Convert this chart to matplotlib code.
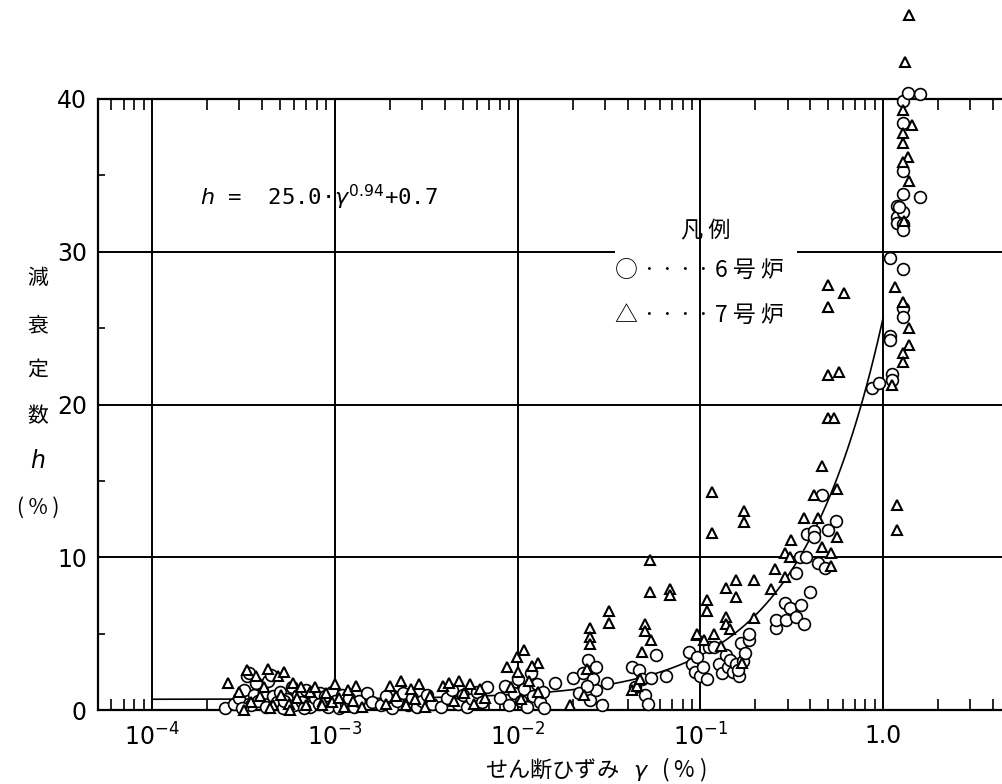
import numpy as np
import matplotlib
matplotlib.use("Agg")
import matplotlib.pyplot as plt
from matplotlib.ticker import FixedLocator, LogLocator, NullFormatter

plt.rcParams['font.family'] = ['DejaVu Sans', 'Noto Sans CJK JP']

# 6号炉 (circles): shear strain gamma (%) and damping h (%)
gamma6 = [2.5e-4, 2.8e-4, 3.0e-4, 3.2e-4, 3.3e-4, 3.4e-4, 3.5e-4, 3.6e-4, 3.8e-4, 4.0e-4,
          4.2e-4, 4.3e-4, 4.5e-4, 4.6e-4, 4.8e-4, 5.0e-4, 5.2e-4, 5.5e-4, 5.8e-4, 6.0e-4,
          6.3e-4, 6.6e-4, 7.0e-4, 7.3e-4, 7.8e-4, 8.3e-4, 3.1e-4, 3.7e-4, 5.3e-4, 6.8e-4,
          8.2e-4, 8.8e-4, 9.2e-4, 9.6e-4, 1.0e-3, 1.05e-3, 1.1e-3, 1.15e-3, 1.2e-3, 1.28e-3,
          1.35e-3, 1.5e-3, 1.6e-3,
          1.8e-3, 1.9e-3, 2.05e-3, 2.2e-3, 2.35e-3, 2.5e-3, 2.65e-3, 2.8e-3, 3.0e-3, 3.2e-3, 3.4e-3,
          3.8e-3, 4.1e-3, 4.4e-3, 4.7e-3, 5.0e-3, 5.3e-3, 5.6e-3, 6.0e-3, 6.4e-3, 6.8e-3,
          8.0e-3, 8.5e-3, 9.0e-3, 9.5e-3, 1.0e-2, 1.04e-2, 1.08e-2, 1.13e-2, 1.18e-2, 1.22e-2,
          1.27e-2, 1.32e-2, 1.38e-2, 1.4e-2, 1.6e-2,
          2.0e-2, 2.27e-2, 2.42e-2, 2.7e-2, 2.18e-2, 2.48e-2, 2.7e-2, 3.1e-2, 2.6e-2, 2.4e-2, 2.9e-2,
          4.2e-2, 4.6e-2, 4.8e-2, 5.0e-2, 5.4e-2, 5.7e-2, 6.5e-2, 4.4e-2, 5.2e-2,
          8.7e-2, 9.0e-2, 9.3e-2, 9.6e-2, 0.100, 0.103, 0.108, 0.112, 0.119, 0.127, 0.132, 0.138,
          0.142, 0.146, 0.150, 0.157, 0.163, 0.166, 0.170, 0.175, 0.184, 0.184, 0.160,
          0.26, 0.26, 0.295, 0.29, 0.31, 0.335, 0.355, 0.37, 0.335, 0.35, 0.38, 0.385, 0.42,
          0.44, 0.48, 0.50, 0.40, 0.465, 0.42, 0.55,
          0.87, 0.95, 1.09, 1.09, 1.12, 1.12, 1.09, 1.28, 1.28, 1.28, 1.58, 1.19, 1.19, 1.19,
          1.28, 1.28, 1.28, 1.28, 1.28, 1.28, 1.36, 1.58, 1.28, 1.22]
h6 = [0.1, 0.4, 0.8, 1.3, 2.2, 2.4, 0.3, 1.0, 0.6, 1.6,
      0.2, 1.9, 2.3, 0.9, 0.5, 1.2, 0.1, 0.7, 1.5, 0.3,
      1.0, 0.5, 1.3, 0.2, 0.8, 1.1, 0.1, 1.8, 0.6, 0.1,
      0.4, 0.9, 0.2, 1.2, 0.6, 0.1, 1.0, 0.4, 0.8, 0.2,
      0.6, 1.1, 0.5,
      0.3, 0.9, 0.1, 0.6, 1.1, 0.3, 0.8, 0.2, 0.6, 1.0, 0.4,
      0.2, 0.8, 1.3, 0.4, 1.0, 0.2, 0.7, 1.2, 0.5, 1.5,
      0.8, 1.6, 0.3, 1.1, 2.0, 0.6, 1.4, 0.2, 2.4, 0.9,
      1.7, 0.5, 1.2, 0.1, 1.8,
      2.1, 2.4, 3.3, 2.8, 1.1, 0.65, 1.3, 1.8, 2.0, 1.6, 0.3,
      2.8, 2.6, 2.0, 1.0, 2.1, 3.6, 2.2, 1.5, 0.4,
      3.8, 3.0, 2.5, 3.5, 2.2, 2.8, 2.0, 4.1, 4.1, 3.0, 2.4, 3.6,
      2.8, 3.3, 2.5, 3.0, 2.2, 4.4, 3.2, 3.7, 4.6, 5.0, 2.6,
      5.4, 5.9, 5.9, 7.0, 6.7, 6.1, 6.9, 5.6, 9.0, 10.0, 10.0, 11.5, 11.7,
      9.6, 9.3, 11.8, 7.7, 14.1, 11.3, 12.4,
      21.1, 21.4, 24.5, 24.2, 22.0, 21.6, 29.6, 28.9, 26.3, 25.7, 33.6, 33.0, 32.3, 31.9,
      32.6, 31.8, 31.4, 35.3, 38.4, 39.9, 40.4, 40.3, 33.8, 32.9]

# 7号炉 (triangles)
gamma7 = [2.6e-4, 3.0e-4, 3.3e-4, 3.5e-4, 3.7e-4, 3.9e-4, 4.1e-4, 4.3e-4, 4.6e-4, 4.9e-4,
          5.1e-4, 5.3e-4, 5.6e-4, 5.9e-4, 6.2e-4, 6.5e-4, 7.0e-4, 7.3e-4, 7.8e-4, 8.6e-4,
          3.2e-4, 4.4e-4, 5.7e-4,
          8.5e-4, 9.0e-4, 9.6e-4, 1.0e-3, 1.06e-3, 1.12e-3, 1.18e-3, 1.25e-3, 1.3e-3, 1.4e-3,
          1.9e-3, 2.0e-3, 2.15e-3, 2.3e-3, 2.45e-3, 2.6e-3, 2.75e-3, 2.9e-3, 3.1e-3, 3.3e-3,
          3.9e-3, 4.2e-3, 4.5e-3, 4.8e-3, 5.1e-3, 5.5e-3, 5.8e-3, 6.2e-3, 6.6e-3,
          8.7e-3, 9.9e-3, 1.09e-2, 1.29e-2, 1.0e-2, 1.15e-2, 1.2e-2, 9.2e-3, 1.05e-2, 1.3e-2,
          1.93e-2, 2.5e-2, 2.5e-2, 2.5e-2, 3.18e-2, 3.18e-2, 2.4e-2, 2.3e-2,
          5.3e-2, 5.3e-2, 6.8e-2, 6.8e-2, 5.0e-2, 5.0e-2, 5.4e-2, 4.8e-2, 4.2e-2, 4.5e-2, 4.7e-2,
          9.6e-2, 0.116, 0.173, 0.173, 0.116, 0.108, 0.108, 0.138, 0.157, 0.157, 0.197, 0.138,
          0.138, 0.146, 0.197, 9.6e-2, 0.119, 0.105, 0.168, 0.130,
          0.242, 0.257, 0.29, 0.29, 0.315, 0.37, 0.42, 0.44, 0.465, 0.50, 0.54, 0.56, 0.465,
          0.52, 0.52, 0.56, 0.50, 0.61, 0.50, 0.50, 0.57, 0.31,
          1.16, 1.28, 1.39, 1.39, 1.28, 1.28, 1.12, 1.19, 1.19, 1.39, 1.31, 1.28, 1.43, 1.28,
          1.28, 1.36, 1.28, 1.39, 1.30]
h7 = [1.8, 1.2, 2.6, 0.5, 2.2, 0.9, 1.5, 2.7, 0.3, 2.2,
      1.0, 2.5, 0.4, 1.8, 0.8, 1.5, 0.3, 1.2, 1.5, 0.6,
      0.0, 0.1, 0.0,
      0.3, 1.1, 0.5, 1.7, 0.8, 0.2, 1.3, 0.6, 1.6, 0.2,
      0.4, 1.6, 0.9, 1.9, 0.3, 1.4, 0.7, 1.7, 0.2, 0.9,
      1.6, 1.8, 0.6, 1.9, 1.1, 1.7, 0.4, 1.4, 0.8,
      2.8, 3.5, 3.9, 3.1, 2.5, 1.9, 2.9, 1.5, 0.7, 1.2,
      0.3, 5.4, 4.8, 4.3, 6.5, 5.7, 2.7, 1.0,
      9.8, 7.7, 7.9, 7.5, 5.6, 5.2, 4.6, 3.8, 1.3, 1.6, 2.0,
      4.9, 14.3, 13.0, 12.3, 11.6, 7.2, 6.5, 8.0, 8.5, 7.4, 8.5, 6.1,
      5.6, 5.3, 6.0, 5.0, 5.0, 4.6, 3.1, 4.2,
      7.9, 9.2, 8.7, 10.3, 11.1, 12.6, 14.1, 12.6, 16.0, 19.1, 19.1, 11.3, 10.7,
      10.3, 9.4, 14.5, 27.8, 27.3, 26.4, 21.9, 22.1, 10.0,
      27.7, 26.7, 25.0, 23.9, 23.4, 22.8, 21.3, 13.4, 11.8, 45.5, 42.4, 39.3, 38.3, 37.8,
      37.1, 36.2, 35.9, 34.6, 32.0]

# fitted curve h = 25.0 * gamma^0.94 + 0.7
fit_a = 25.0
fit_b = 0.94
fit_c = 0.7

fig = plt.figure(figsize=(10.02, 7.84), dpi=100)
W, H = 1002.0, 784.0
# axes extends past the right edge of the image (cropped like the scan)
ax = fig.add_axes([98 / W, 1 - 710 / H, 968 / W, 611 / H])
ax.set_xscale('log')
ax.set_xlim(10 ** -4.2954, 10.0)
ax.set_ylim(0, 40)

# grid
for gx in [1e-4, 1e-3, 1e-2, 1e-1, 1.0]:
    ax.axvline(gx, color='black', lw=1.4, zorder=1)
for gy in [10, 20]:
    ax.axhline(gy, color='black', lw=1.4, zorder=1)
# the 30 line is broken where the legend sits
ax.hlines(30, 10 ** -4.2954, 0.0341, color='black', lw=1.4, zorder=1)
ax.hlines(30, 0.3376, 10.0, color='black', lw=1.4, zorder=1)

g = np.logspace(-4, 0, 400)
ax.plot(g, fit_a * g ** fit_b + fit_c, color='black', lw=1.2, zorder=2)

ax.plot(gamma6, h6, linestyle='none', marker='o', markersize=8.5, markerfacecolor='white',
        markeredgecolor='black', markeredgewidth=1.2, clip_on=False, zorder=3)
ax.plot(gamma7, h7, linestyle='none', marker='^', markersize=7, markerfacecolor='white',
        markeredgecolor='black', markeredgewidth=1.5, clip_on=False, zorder=4)

for s in ax.spines.values():
    s.set_linewidth(1.6)

ax.xaxis.set_major_locator(FixedLocator([1e-4, 1e-3, 1e-2, 1e-1, 1.0]))
ax.xaxis.set_minor_locator(LogLocator(base=10, subs=np.arange(2, 10)))
ax.xaxis.set_minor_formatter(NullFormatter())
ax.set_xticklabels([r'$10^{-4}$', r'$10^{-3}$', r'$10^{-2}$', r'$10^{-1}$', '1.0'])
ax.set_yticks([0, 10, 20, 30, 40])
ax.yaxis.set_minor_locator(FixedLocator([5, 15, 25, 35]))
ax.tick_params(which='both', direction='in', top=True, right=False, labelsize=17, colors='black')
ax.tick_params(which='major', length=0, pad=10)
ax.tick_params(which='minor', length=8, width=1.2)
ax.tick_params(axis='y', which='minor', length=5)
ax.tick_params(axis='y', which='major', pad=8)

# equation
fig.text(200 / W, 1 - 197 / H, r'$h$ =  25.0·$\gamma^{0.94}$+0.7', fontsize=16,
         family=['DejaVu Sans Mono', 'DejaVu Sans'], va='center', ha='left')

# legend
jp = ['Noto Sans CJK JP']
fig.text(706 / W, 1 - 231 / H, '凡 例', fontsize=16, family=jp, ha='center', va='center')
fig.text(615 / W, 1 - 270 / H, '○ · · · · 6 号 炉', fontsize=16.5, family=jp, ha='left', va='center')
fig.text(615 / W, 1 - 315 / H, '△ · · · · 7 号 炉', fontsize=16.5, family=jp, ha='left', va='center')

# y label, stacked vertically
for txt, yy in [('減', 278), ('衰', 325), ('定', 370), ('数', 416)]:
    fig.text(38 / W, 1 - yy / H, txt, fontsize=15, family=jp, ha='center', va='center')
fig.text(38 / W, 1 - 462 / H, r'$\mathit{h}$', fontsize=17, family=['DejaVu Serif'],
         ha='center', va='center')
fig.text(38 / W, 1 - 508 / H, '( % )', fontsize=15, family=jp, ha='center', va='center')

# x label
fig.text(596 / W, 1 - 770 / H, 'せん断ひずみ   $\\gamma$   ( % )', fontsize=16,
         family=jp, ha='center', va='center')

fig.savefig('out.png', dpi=100)
